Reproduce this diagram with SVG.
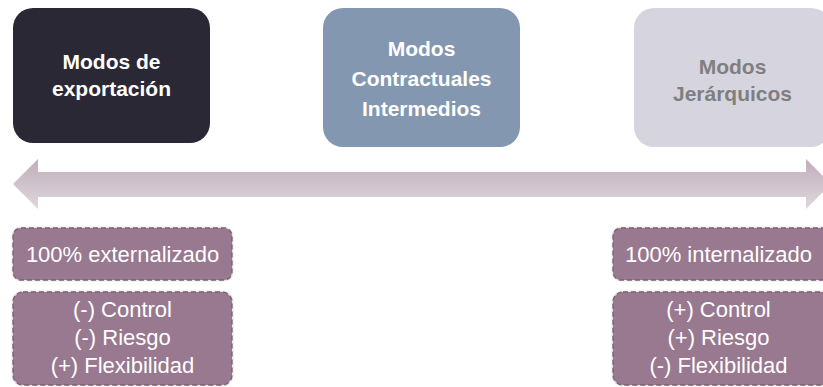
<svg xmlns="http://www.w3.org/2000/svg" width="823" height="387" viewBox="0 0 823 387">
  <defs>
    <linearGradient id="arrowGrad" x1="0" y1="0" x2="0" y2="1">
      <stop offset="0" stop-color="#c1aebb"/>
      <stop offset="1" stop-color="#ded7dc"/>
    </linearGradient>
  </defs>
  <style>
    .title { font-family: "Liberation Sans", Arial, sans-serif; font-weight: bold; font-size: 21px; text-anchor: middle; }
    .label { font-family: "Liberation Sans", Arial, sans-serif; font-size: 22px; fill: #ffffff; text-anchor: middle; }
    .tag-halo { fill: none; stroke: #e9e5e8; stroke-width: 3; }
    .tag { fill: #98798f; stroke: #7c5f76; stroke-width: 1.3; stroke-dasharray: 5 3; }
  </style>

  <g id="connectors">
    <path id="double-arrow" d="M13,184 L38,159 L38,172 L806,172 L806,159 L831,184 L806,209 L806,197 L38,197 L38,209 Z" fill="url(#arrowGrad)"/>
  </g>

  <g id="node-exportacion">
    <rect x="13" y="8" width="197" height="135" rx="20" fill="#2a2835"/>
    <text class="title" fill="#ffffff"><tspan x="111.5" y="69">Modos de</tspan><tspan x="111.5" y="96">exportación</tspan></text>
  </g>

  <g id="node-contractuales">
    <rect x="323" y="8" width="197" height="139" rx="20" fill="#8497b0"/>
    <text class="title" fill="#ffffff"><tspan x="421.5" y="56">Modos</tspan><tspan x="421.5" y="86">Contractuales</tspan><tspan x="421.5" y="116">Intermedios</tspan></text>
  </g>

  <g id="node-jerarquicos">
    <rect x="634" y="8" width="197" height="139" rx="20" fill="#d6d5df"/>
    <text class="title" fill="#7f7f7f"><tspan x="732.5" y="74">Modos</tspan><tspan x="732.5" y="101">Jerárquicos</tspan></text>
  </g>

  <g id="tag-externalizado">
    <rect class="tag-halo" x="13" y="228" width="219" height="52" rx="8"/>
    <rect class="tag" x="13" y="228" width="219" height="52" rx="8"/>
    <text class="label" x="122.5" y="262">100% externalizado</text>
  </g>

  <g id="tag-left-traits">
    <rect class="tag-halo" x="13" y="292" width="219" height="93" rx="10"/>
    <rect class="tag" x="13" y="292" width="219" height="93" rx="10"/>
    <text class="label"><tspan x="122.5" y="317">(-) Control</tspan><tspan x="122.5" y="345">(-) Riesgo</tspan><tspan x="122.5" y="373">(+) Flexibilidad</tspan></text>
  </g>

  <g id="tag-internalizado">
    <rect class="tag-halo" x="613" y="228" width="219" height="52" rx="8"/>
    <rect class="tag" x="613" y="228" width="219" height="52" rx="8"/>
    <text class="label" x="718.5" y="262">100% internalizado</text>
  </g>

  <g id="tag-right-traits">
    <rect class="tag-halo" x="613" y="292" width="219" height="93" rx="10"/>
    <rect class="tag" x="613" y="292" width="219" height="93" rx="10"/>
    <text class="label"><tspan x="718.5" y="317">(+) Control</tspan><tspan x="718.5" y="345">(+) Riesgo</tspan><tspan x="718.5" y="373">(-) Flexibilidad</tspan></text>
  </g>
</svg>
